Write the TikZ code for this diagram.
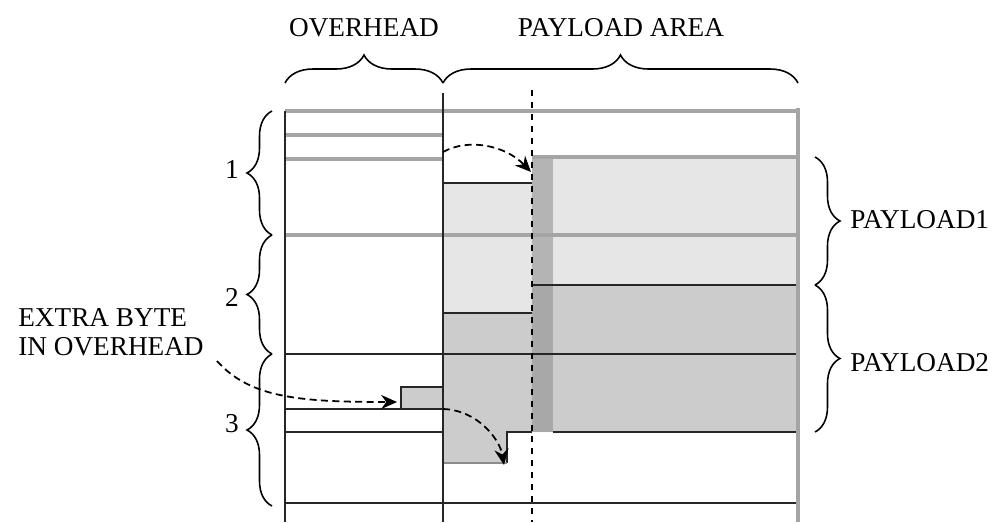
\documentclass[tikz,border=0pt]{standalone}
\usepackage{fontspec}
\setmainfont{Liberation Serif}
\usepackage{xcolor}
\usetikzlibrary{arrows.meta, positioning, decorations.pathreplacing}
\definecolor{rowgray}{RGB}{165,165,165}
\definecolor{lightfill}{RGB}{230,230,230}
\definecolor{midfill}{RGB}{204,204,204}
\definecolor{stripone}{RGB}{180,180,180}
\definecolor{striptwo}{RGB}{168,168,168}

\begin{document}
\begin{tikzpicture}[
  x=0.02cm, y=-0.02cm,
  lbl/.style={font=\fontsize{15.5}{16.5}\selectfont, inner sep=0pt},
  blk/.style={line width=1.1pt, draw=black!85},
  gry/.style={line width=2.2pt, draw=rowgray},
  brc/.style={decorate, decoration={brace, amplitude=#1}, line width=0.9pt},
  brc/.default=0.5cm,
  ptr/.style={dash pattern=on 4pt off 2.5pt, line width=1pt,
              -{Stealth[length=9pt, width=8pt]}},
]
  \useasboundingbox (0,0) rectangle (1002,522);

  % shaded payloads
  \fill[lightfill] (443,183) -- (532,183) -- (532,157) -- (798,157) -- (798,285)
    -- (532,285) -- (532,313) -- (443,313) -- cycle;
  \fill[midfill] (443,313) -- (532,313) -- (532,285) -- (798,285) -- (798,432)
    -- (507,432) -- (507,463) -- (443,463) -- cycle;
  \fill[stripone] (532,157) rectangle (553,285);
  \fill[striptwo] (532,285) rectangle (553,432);

  % rows
  \draw[gry] (285,111) -- (798,111);
  \draw[gry] (285,135) -- (443,135);
  \draw[gry] (285,159) -- (443,159);
  \draw[gry] (532,157) -- (798,157);
  \draw[gry] (285,235) -- (798,235);
  \draw[blk] (443,183) -- (532,183);
  \draw[blk] (532,285) -- (798,285);
  \draw[blk] (443,313) -- (532,313);
  \draw[blk] (285,354) -- (798,354);
  \draw[blk] (285,409) -- (443,409);
  \draw[blk] (285,432) -- (443,432);
  \draw[blk] (507,463) -- (507,432) -- (532,432);
  \draw[blk] (553,432) -- (798,432);
  \draw[line width=1.1pt, draw=black!45] (443,463) -- (507,463);
  \draw[blk] (285,503) -- (798,503);

  % columns
  \draw[blk] (285,111) -- (285,522);
  \draw[blk] (443,93) -- (443,522);
  \draw[gry] (798,108) -- (798,522);
  \draw[line width=1pt, dash pattern=on 3.4pt off 3.4pt] (532,90) -- (532,522);

  % extra byte
  \draw[blk, fill=midfill] (401,387) rectangle (443,409);
  \coordinate (xb) at (397,402);
  \coordinate (xbcorner) at (443,409);

  % braces
  \draw[brc=0.56cm] (285,83) -- (443,83);
  \draw[brc=0.56cm] (443,83) -- (798,83);
  \draw[brc] (272,235) -- (272,111);
  \draw[brc] (272,354) -- (272,235);
  \draw[brc] (272,506) -- (272,354);
  \draw[brc] (815,157) -- (815,285);
  \draw[brc] (815,285) -- (815,432);

  % labels
  \node[lbl] (ovh) at (364,28) {OVERHEAD};
  \node[lbl] (pay) at (621,28) {PAYLOAD AREA};
  \node[lbl] (r1) at (232,170) {1};
  \node[lbl] (r2) at (232,297) {2};
  \node[lbl] (r3) at (232,424) {3};
  \node[lbl, anchor=west] (p1) at (850,220) {PAYLOAD1};
  \node[lbl, anchor=west] (p2) at (850,363) {PAYLOAD2};
  \node[lbl, anchor=west, align=left] (xtra) at (18,332) {EXTRA BYTE\\IN OVERHEAD};

  % pointers
  \coordinate (ptrA) at (443,152);
  \coordinate (ptrAend) at (531,172);
  \coordinate (ptrB) at (217,361);
  \coordinate (ptrBend) at (504,465);
  \draw[ptr] (ptrA) .. controls (468,138) and (505,145) .. (ptrAend);
  \draw[ptr] (ptrB) .. controls (250,398) and (300,402) .. (xb);
  \draw[ptr] (xbcorner) .. controls (478,410) and (500,440) .. (ptrBend);
\end{tikzpicture}
\end{document}
